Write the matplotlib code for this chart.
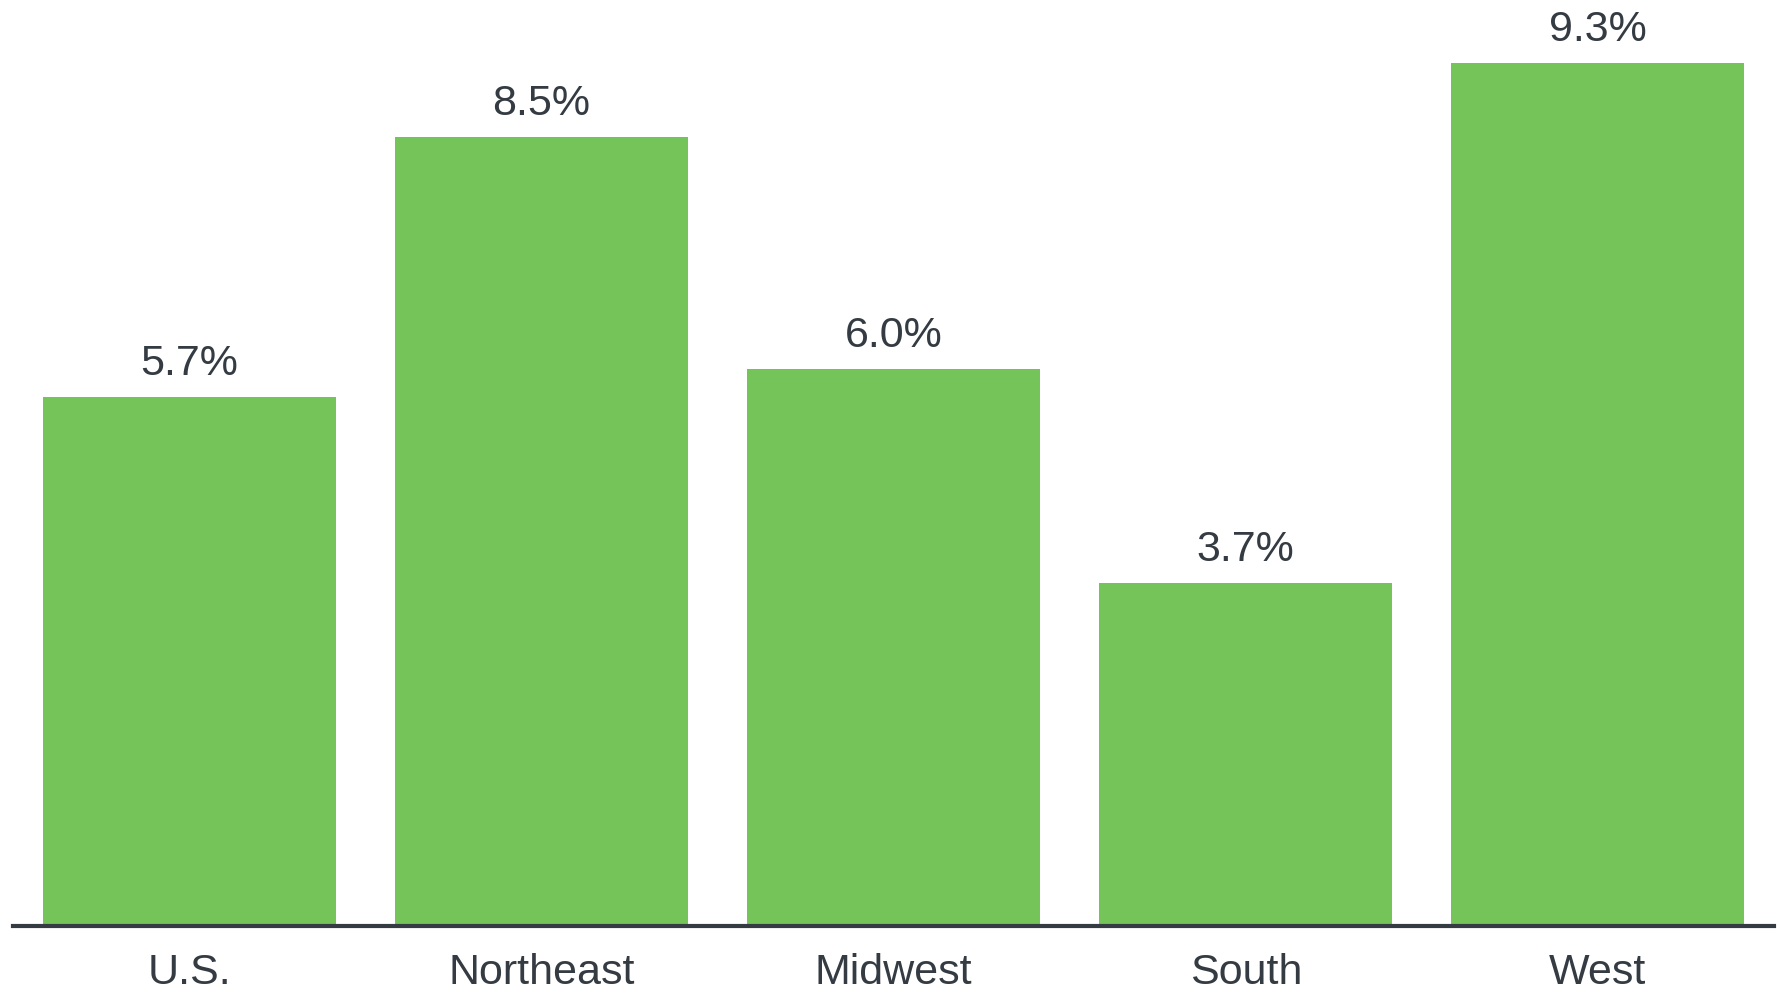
import matplotlib
matplotlib.use("Agg")
import matplotlib.pyplot as plt

regions = ["U.S.", "Northeast", "Midwest", "South", "West"]
rates = [5.7, 8.5, 6.0, 3.7, 9.3]

bar_color = "#74C45A"
text_color = "#343b42"

plt.rcParams["font.family"] = ["Liberation Sans", "DejaVu Sans"]

fig = plt.figure(figsize=(17.81, 9.95), dpi=100)
ax = fig.add_axes([0.0073, 0.0683, 0.9888, 0.9317])

x = range(len(regions))
bars = ax.bar(x, rates, width=0.832, color=bar_color)

for b, v in zip(bars, rates):
    ax.annotate(f"{v:.1f}%", (b.get_x() + b.get_width() / 2, v),
                xytext=(0, 10), textcoords="offset points",
                ha="center", va="bottom", fontsize=31, color=text_color,
                annotation_clip=False)

ax.set_xlim(-0.5, 4.5)
ax.set_ylim(0, 9.986)
ax.set_xticks(list(x))
ax.set_xticklabels(regions, fontsize=31, color=text_color)
ax.tick_params(axis="x", length=0, pad=19)
ax.set_yticks([])

for side in ["top", "left", "right"]:
    ax.spines[side].set_visible(False)
ax.spines["bottom"].set_color(text_color)
ax.spines["bottom"].set_linewidth(3)

fig.savefig("out.png", dpi=100)
